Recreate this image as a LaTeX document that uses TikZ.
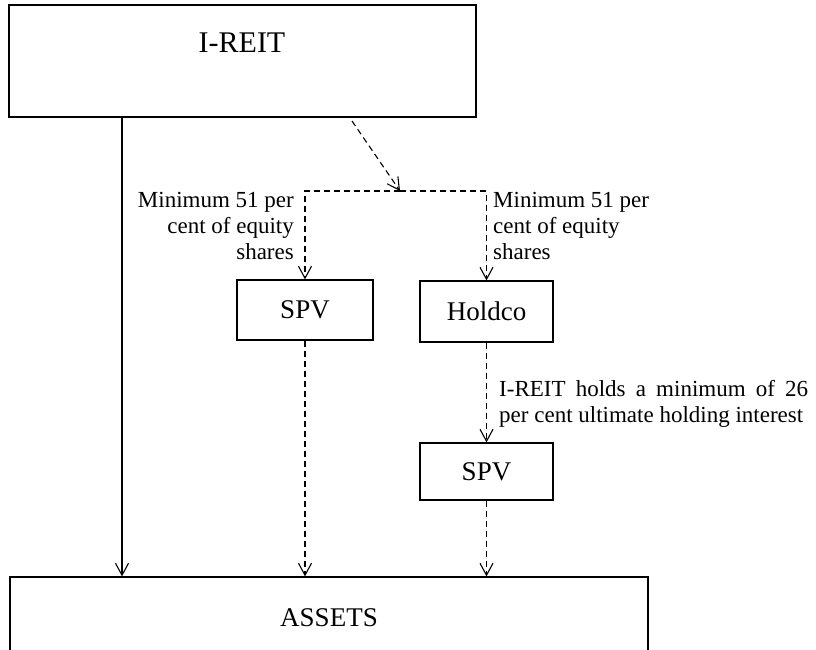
\documentclass[tikz,border=0pt]{standalone}
\usepackage{fontspec}
\setmainfont{Liberation Serif}
\usetikzlibrary{arrows.meta}
\begin{document}
\begin{tikzpicture}[x=1pt,y=-1pt,
  box/.style={draw, line width=1.2pt, inner sep=0pt, minimum width=#1},
  boxtxt/.style={font=\fontsize{27}{32}\selectfont, inner sep=0pt},
  lbl/.style={font=\fontsize{23}{26}\selectfont, inner sep=0pt},
  arr/.style={-{Straight Barb[length=12pt,width=13pt]}, line width=1.1pt},
  dsh/.style={arr, dash pattern=on 6pt off 4pt}]
\clip (0,0) rectangle (816,650);
\fill[white] (0,0) rectangle (816,650);
% boxes
\node[box=467pt, minimum height=112pt] (ireit) at (242.5,61) {};
\node[boxtxt] (ireittxt) at (242,43) {\fontsize{30}{34}\selectfont I-REIT};
\node[box=136pt, minimum height=60pt] (spva) at (305,310) {};
\node[boxtxt] (spvatxt) at (305,310) {SPV};
\node[box=133pt, minimum height=61pt] (holdco) at (486.5,311.5) {};
\node[boxtxt] (holdcotxt) at (486.5,311.5) {Holdco};
\node[box=133pt, minimum height=57pt] (spvb) at (486.5,471.5) {};
\node[boxtxt] (spvbtxt) at (486.5,471.5) {SPV};
\node[box=638pt, minimum height=160pt] (assets) at (329,657) {};
\node[boxtxt] (assetstxt) at (329,618) {ASSETS};
% connectors
\coordinate (solidx) at (122,0);
\draw[arr] (ireit.south -| solidx) -- (assets.north -| solidx);
\coordinate (dstart) at (352,121);
\coordinate (jn) at (400,191);
\draw[dsh] (dstart) -- (jn);
\draw[dsh] (jn) -| (spva.north);
\draw[dsh] (jn) -| (holdco.north);
\draw[dsh] (spva.south) -- (assets.north -| spva.south);
\draw[dsh] (holdco.south) -- (spvb.north);
\draw[dsh] (spvb.south) -- (assets.north -| spvb.south);
% labels
\node[lbl, anchor=east, align=right] (la) at (294,226) {Minimum 51 per\\cent of equity\\shares};
\node[lbl, anchor=west, align=left] (lb) at (493,226) {Minimum 51 per\\cent of equity\\shares};
\node[lbl, anchor=north west, text width=309pt, align=justify] (lc) at (499,380) {\hyphenpenalty=10000 I-REIT holds a minimum of 26 per cent ultimate holding interest};
\end{tikzpicture}
\end{document}
